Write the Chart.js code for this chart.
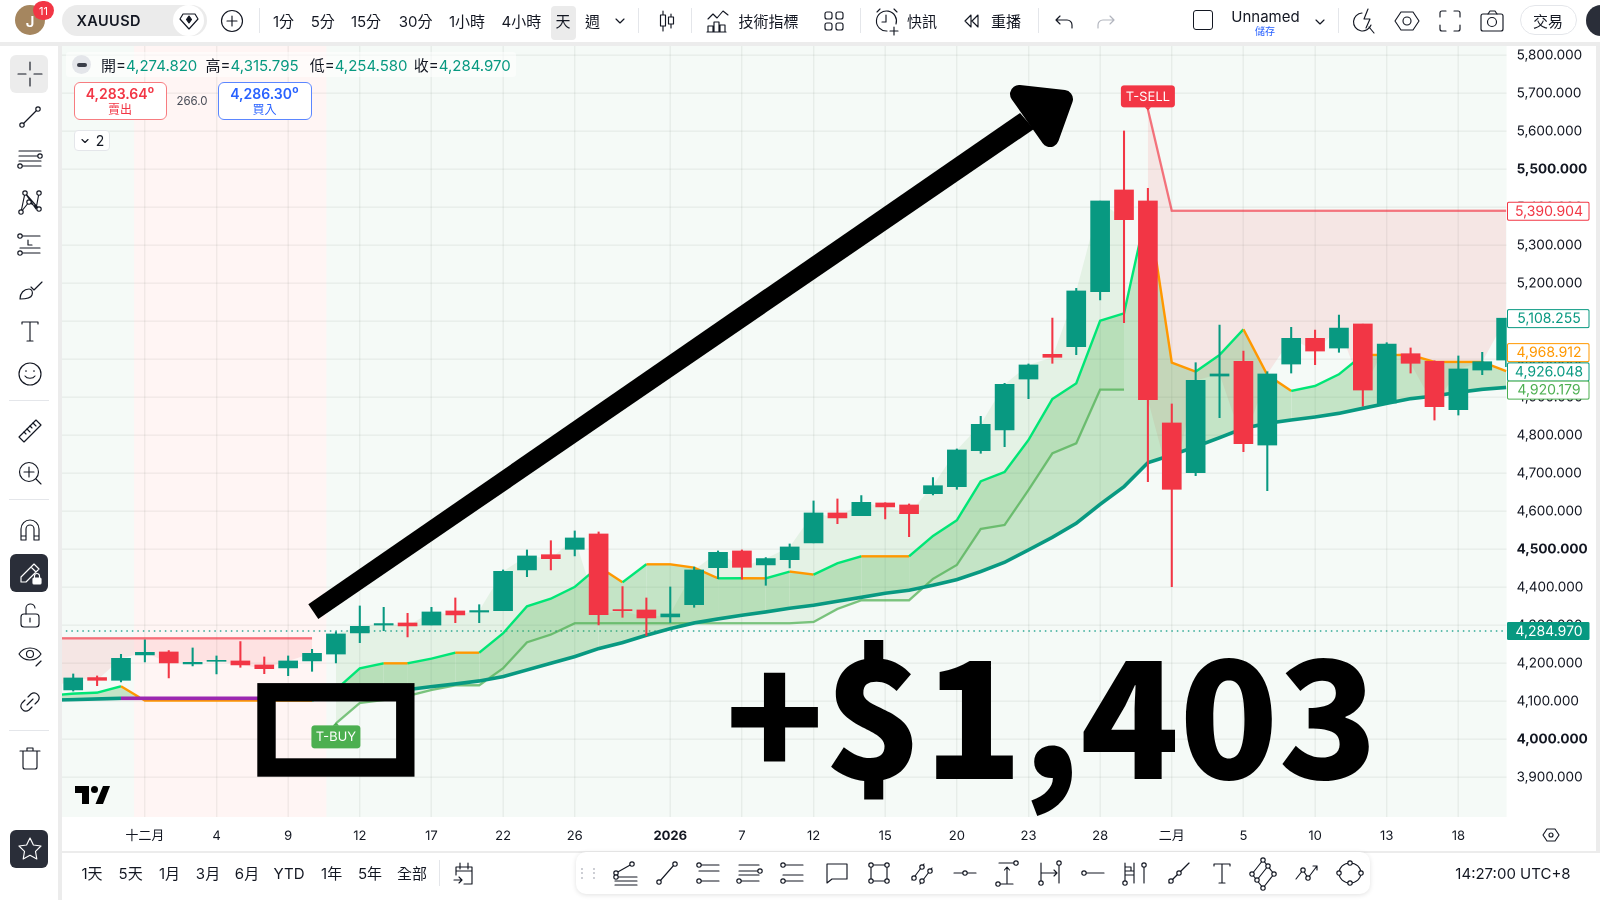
<!DOCTYPE html>
<html><head><meta charset="utf-8">
<script src="https://cdn.jsdelivr.net/npm/chart.js@4/dist/chart.umd.js"></script>
<style>
html,body{margin:0;padding:0;background:#fff;width:1600px;height:900px;overflow:hidden;font-family:Inter,"Noto Sans CJK TC",sans-serif;color:#131722}
.p{position:absolute}
#c{position:absolute;left:0;top:0;z-index:1}
#ui{position:absolute;left:0;top:0;width:1600px;height:900px;z-index:2;pointer-events:none}
.t{position:absolute;transform:translate(-50%,-50%);white-space:nowrap;line-height:1}
.l{position:absolute;transform:translateY(-50%);white-space:nowrap;line-height:1}
svg.i{position:absolute;fill:none;stroke:#131722;stroke-width:1.15;stroke-linecap:round;stroke-linejoin:round;overflow:visible}
svg.i circle{fill:#fff}
#big{position:absolute;left:725px;top:603px;font:900 163px/1.3 "Noto Sans CJK TC","Noto Sans",sans-serif;color:#000;white-space:nowrap;z-index:4}
#ann{position:absolute;left:0;top:0;z-index:3}
</style></head><body>
<div class="p" style="left:0;top:42px;width:1600px;height:4px;background:#ececec"></div>
<div class="p" style="left:58px;top:42px;width:4px;height:858px;background:#ececec"></div>
<div class="p" style="left:1596px;top:42px;width:4px;height:809px;background:#ececec"></div>
<div class="p" style="left:62px;top:851px;width:1538px;height:2px;background:#ececec"></div>
<canvas id="c" width="1600" height="900"></canvas>
<div id="ui"></div>
<svg id="ann" width="1600" height="900">
  <rect x="266.5" y="692.3" width="138.8" height="75.2" fill="none" stroke="#000" stroke-width="18.4"/>
  <polygon points="308.3,604.3 318.3,619 1034,129 1020,113" fill="#000"/>
  <polygon points="1019,94 1064,99 1050,138" fill="#000" stroke="#000" stroke-width="18" stroke-linejoin="round"/>
</svg>
<div id="big">+$1,403</div>
<script>
// ---------- chart data (index -1 is the off-screen bar that feeds the left edge) ----------
const opens  = [4118,4129.8,4162.3,4155.3,4221.9,4229.8,4198.2,4205.3,4206.1,4195.6,4187.7,4206.1,4224.5,4279.8,4300.8,4306.1,4300.8,4337.7,4335,4338.6,4445.6,4485.9,4500,4540.4,4341.3,4340.4,4322,4354.4,4451.8,4495.6,4458.8,4472.8,4516.7,4595.6,4588.6,4621.9,4616.7,4646.5,4664.9,4759.6,4814,4948.1,5013,5033.4,5178,5445.6,5416.6,4832.4,4701.7,4956,4994.6,4774.5,4987.6,5055.1,5029.7,5092.9,4884.1,5014.8,4994.6,4867.5,4971.8,4998.1];
const highs  = [4135,4172,4166.7,4223.7,4261.4,4233.3,4240.3,4219.3,4257,4216.7,4219.3,4236.8,4282.4,4350.8,4347.3,4331.5,4347.3,4371.9,4354.3,4445.6,4498.2,4522.7,4548.3,4545.6,4401.8,4372,4400.9,4453.5,4495.6,4498.3,4478.1,4514,4627.2,4632.4,4641.2,4623,4619.3,4688.6,4764,4850,4936.8,4987.6,5108.6,5186.9,5416.6,5600.8,5450,4882.4,4991.1,5090.2,5021.8,4967.4,5084.1,5077,5116.5,5092.9,5043.7,5029.7,4996.4,5008.7,5018.3,5108.3];
const lows   = [4110,4127,4141.2,4150.9,4203.5,4161.4,4193,4172,4189.5,4172.8,4167.5,4179,4200.9,4254.4,4285.9,4269.3,4300.8,4307,4307,4338.6,4428,4445.6,4482.5,4301,4321.1,4272.9,4307.1,4347.4,4422.8,4421.1,4405.3,4450.9,4516.7,4567.6,4588.6,4579.8,4533.3,4643,4657.9,4752.6,4770,4896.4,4989.4,5012.3,5156.2,5096.5,4678,4401.8,4693.8,4846.4,4757,4654.4,4963.9,4985.9,5018.3,4877,4882.4,4963.9,4840.3,4853.4,4959.6,4980.6];
const closes = [4128,4161.4,4155.3,4213.1,4228.9,4200.9,4202.6,4207.9,4195.6,4186,4206.1,4226.3,4277.2,4297.3,4304.4,4298.2,4335,4327.2,4338.6,4442,4482.4,4475.4,4529.8,4328.1,4338.6,4319.4,4329.9,4445.6,4492.1,4452.7,4475.5,4506.2,4595.6,4582.5,4623.7,4611.4,4593.9,4667.5,4761.4,4828.9,4934.1,4985,5005.2,5179.9,5416.6,5367.5,4893.8,4657.9,4944.6,4961.3,4778,4961.3,5055.1,5021.8,5082.3,4919.2,5040.2,4989.4,4875.4,4974.5,4993.8,5108.255];
const fastLine = [4115,4120.2,4122.8,4139.5,4101.8,4101.8,4101.8,4101.8,4101.8,4101.8,4101.8,4101.8,4130.7,4186.8,4200,4200,4212.3,4228,4228,4278.9,4350,4370,4401,4454.4,4413.2,4460.6,4460.6,4451.8,4423.7,4423.8,4423.7,4441.3,4433.4,4463.2,4481.6,4481.6,4481.6,4535.1,4576.3,4678.9,4703.5,4787.7,4895.5,4936.8,5101.6,5120.9,5406,4991.3,4967.6,5011.5,5079,4958.9,4916.8,4929.9,4960.6,5011.5,5011.5,5011.5,4993,4993,4993,4968.912];
const slowLine = [4103,4104.4,4106.1,4107.9,4107.9,4107.9,4107.9,4107.9,4107.9,4107.9,4107.9,4107.9,4113.2,4118.4,4124.6,4130.7,4138.6,4145.6,4153.5,4164.9,4182.5,4200,4217.6,4238.7,4254.5,4273.8,4291.3,4306.2,4316.7,4326.4,4335.1,4344.8,4352.7,4363.2,4373.7,4384.3,4392.2,4405.3,4420.2,4441.3,4465.8,4498.3,4531.6,4568.4,4618.4,4664.9,4728,4748.2,4770.1,4793.8,4818.4,4831.5,4840.3,4848.2,4857.8,4871,4884.1,4896.4,4903.4,4913.1,4921,4926.048];
const stopLine = [null,null,null,null,null,null,null,null,null,null,null,null,4042,4095.6,4103.5,4114,4129.8,4142,4142,4186.8,4255.2,4275.5,4305.3,4305.3,4305.3,4305.3,4305.3,4305.3,4305.3,4305.3,4305.3,4305.3,4308.8,4343,4365.8,4365.8,4365.8,4422,4458.8,4553.5,4564,4656,4752.6,4778.9,4920.179,4920.179,null,null,null,null,null,null,null,null,null,null,null,null,null,null,null,null];
const sellLine = [4265.8,4265.8,4265.8,4265.8,4265.8,4265.8,4265.8,4265.8,4265.8,4265.8,4265.8,4265.8,null,null,null,null,null,null,null,null,null,null,null,null,null,null,null,null,null,null,null,null,null,null,null,null,null,null,null,null,null,null,null,null,null,null,5657.8,5390.904,5390.904,5390.904,5390.904,5390.904,5390.904,5390.904,5390.904,5390.904,5390.904,5390.904,5390.904,5390.904,5390.904,5390.904];
const lastPrice = 4284.970;
const xTickIndexes = [3,6,9,12,15,18,21,25,28,31,34,37,40,43,46,49,52,55,58];
const xTickLabels  = ['十二月','4','9','12','17','22','26','2026','7','12','15','20','23','28','二月','5','10','13','18'];
const yTickValues  = [3900,4000,4100,4200,4300,4400,4500,4600,4700,4800,4900,5000,5100,5200,5300,5400,5500,5600,5700,5800];
const yBoldTicks   = [4000,4500,5500];
const bearRegion   = [2.55,10.6];
const rightTags = [[5390.904,'#F23645',0],[5108.255,'#089981',0],[4968.912,'#FF9800',-19],[4926.048,'#089981',-16],[4920.179,'#4CAF50',0]];

// ---------- chart ----------
const UP='#089981',DOWN='#F23645',ORANGE='#FF9800',FAST='#00E676',PURPLE='#9C27B0';
const idx=i=>i-1;
const pts=a=>a.map((v,i)=>({x:idx(i),y:v}));
const FONT='Inter,"Noto Sans CJK TC",sans-serif';
const closeBull=closes.map((v,i)=>stopLine[i]===null?null:v);
const closeBear=closes.map((v,i)=>sellLine[i]===null?null:v);
const isUp=c=>closes[c.dataIndex]>=opens[c.dataIndex];
const hidden={borderWidth:0,pointRadius:0,tension:0};

const regionPlugin={id:'regions',beforeDraw(ch){
  const {ctx,chartArea:a,scales:{x}}=ch;
  ctx.save();ctx.fillStyle='#f5faf7';ctx.fillRect(a.left,a.top,a.right-a.left,a.bottom-a.top);
  ctx.fillStyle='#fff5f4';
  const x0=x.getPixelForValue(bearRegion[0]),x1=x.getPixelForValue(bearRegion[1]);
  ctx.fillRect(x0,a.top,x1-x0,a.bottom-a.top);ctx.restore();
}};
function flag(ctx,cx,top,w,h,up,color,text){
  ctx.fillStyle=color;ctx.beginPath();ctx.roundRect(cx-w/2,top,w,h,3);ctx.fill();
  ctx.beginPath();
  if(up){ctx.moveTo(cx-3,top);ctx.lineTo(cx,top-3);ctx.lineTo(cx+3,top);}
  else{ctx.moveTo(cx-3,top+h);ctx.lineTo(cx,top+h+3);ctx.lineTo(cx+3,top+h);}
  ctx.fill();
  ctx.fillStyle='#fff';ctx.font='13px '+FONT;ctx.textAlign='center';ctx.textBaseline='middle';
  ctx.fillText(text,cx,top+h/2+.5);
}
const tagPlugin={id:'tags',afterDraw(ch){
  const {ctx,scales:{x,y}}=ch;ctx.save();
  flag(ctx,x.getPixelForValue(11),y.getPixelForValue(stopLine[12])+2,49,23,true,'#4CAF50','T-BUY');
  flag(ctx,x.getPixelForValue(45),y.getPixelForValue(sellLine[46])-24,54,22,false,DOWN,'T-SELL');
  const fmt=v=>v.toLocaleString('en-US',{minimumFractionDigits:3,maximumFractionDigits:3});
  ctx.font='14px '+FONT;ctx.textAlign='center';ctx.textBaseline='middle';
  for(const [v,c,n] of rightTags){
    const py=y.getPixelForValue(v)+n;
    ctx.fillStyle='#fff';ctx.strokeStyle=c;ctx.lineWidth=1;
    ctx.beginPath();ctx.roundRect(1507.5,py-8.5,81.5,18,1.5);ctx.fill();ctx.stroke();
    ctx.fillStyle=c;ctx.fillText(fmt(v),1549,py+.8);
  }
  const py=y.getPixelForValue(lastPrice);
  ctx.fillStyle=UP;ctx.beginPath();ctx.roundRect(1507,py-9,82.5,18,1.5);ctx.fill();
  ctx.fillStyle='#fff';ctx.fillText(fmt(lastPrice),1549,py+.8);
  ctx.restore();
}};

new Chart(document.getElementById('c'),{
  type:'bar',
  data:{datasets:[
    {type:'line',data:pts(closeBull),...hidden,fill:{target:2,above:'rgba(76,175,80,0.10)',below:'rgba(76,175,80,0.10)'},order:20},
    {type:'line',data:pts(closeBear),...hidden,fill:{target:3,above:'rgba(242,54,69,0.10)',below:'rgba(242,54,69,0.10)'},order:19},
    {type:'line',data:pts(stopLine),borderColor:'rgba(76,175,80,0.72)',borderWidth:2.3,pointRadius:0,tension:0,fill:false,order:12},
    {type:'line',data:pts(sellLine),borderColor:'rgba(242,54,69,0.68)',borderWidth:2.3,pointRadius:0,tension:0,fill:false,order:12},
    {type:'line',data:pts(fastLine),borderColor:FAST,borderWidth:2.4,pointRadius:0,tension:0,order:10,
      fill:{target:5,above:'rgba(76,175,80,0.29)',below:'rgba(242,54,69,0.22)'},
      segment:{borderColor:c=>c.p1.parsed.y>c.p0.parsed.y?FAST:ORANGE}},
    {type:'line',data:pts(slowLine),borderColor:UP,borderWidth:3.6,pointRadius:0,tension:0,fill:false,order:9,
      segment:{borderColor:c=>c.p1.parsed.y===c.p0.parsed.y?PURPLE:UP}},
    {type:'line',data:[{x:-1,y:lastPrice},{x:61,y:lastPrice}],borderColor:UP,borderWidth:1.2,borderDash:[1.5,4],pointRadius:0,fill:false,order:11},
    {type:'bar',data:lows.map((v,i)=>({x:idx(i),y:[v,highs[i]]})),barThickness:1.4,grouped:false,borderWidth:0,
      backgroundColor:c=>isUp(c)?UP:DOWN,order:2},
    {type:'bar',data:opens.map((v,i)=>({x:idx(i),y:[v,closes[i]]})),barThickness:19,grouped:false,borderWidth:0,
      backgroundColor:c=>isUp(c)?UP:DOWN,order:1}
  ]},
  options:{
    responsive:false,animation:false,devicePixelRatio:2,
    layout:{padding:{left:62,top:46,right:0,bottom:0}},
    plugins:{legend:{display:false},tooltip:{enabled:false}},
    scales:{
      x:{type:'linear',min:-0.47,max:60.02,offset:false,position:'bottom',
        grid:{color:'rgba(40,60,50,0.065)',lineWidth:1.4,drawTicks:false,offset:false},border:{display:false},
        afterBuildTicks:s=>{s.ticks=xTickIndexes.map(v=>({value:v}));},
        afterFit:s=>{s.height=83;},
        ticks:{autoSkip:false,maxRotation:0,padding:11.5,color:'#131722',
          font:c=>({family:FONT,size:13,weight:c.tick&&c.tick.value===25?'700':'400'}),
          callback:v=>xTickLabels[xTickIndexes.indexOf(v)]}},
      y:{type:'linear',position:'right',min:3795.5,max:5824.5,
        grid:{color:'rgba(40,60,50,0.065)',lineWidth:1.4,drawTicks:false},border:{display:false},
        afterBuildTicks:s=>{s.ticks=yTickValues.map(v=>({value:v}));},
        afterFit:s=>{s.width=93.4;},
        ticks:{padding:10,color:'#131722',autoSkip:false,
          font:c=>({family:FONT,size:13.5,weight:c.tick&&yBoldTicks.includes(c.tick.value)?'700':'400'}),
          callback:v=>v.toLocaleString('en-US',{minimumFractionDigits:3,maximumFractionDigits:3})}}
    }
  },
  plugins:[regionPlugin,tagPlugin]
});

// ---------- surrounding interface ----------
const ui=document.getElementById('ui');
function box(x,y,w,h,css){const d=document.createElement('div');d.style.cssText=`position:absolute;left:${x}px;top:${y}px;width:${w}px;height:${h}px;${css||''}`;ui.appendChild(d);return d;}
function T(x,y,s,size,css){const d=document.createElement('div');d.className='t';d.textContent=s;d.style.cssText=`left:${x}px;top:${y}px;font-size:${size||15}px;${css||''}`;ui.appendChild(d);return d;}
function L(x,y,s,size,css){const d=document.createElement('div');d.className='l';d.textContent=s;d.style.cssText=`left:${x}px;top:${y}px;font-size:${size||15}px;${css||''}`;ui.appendChild(d);return d;}
function I(x,y,inner,extra){const s=document.createElementNS('http://www.w3.org/2000/svg','svg');s.setAttribute('class','i');s.setAttribute('width',28);s.setAttribute('height',28);s.setAttribute('viewBox','0 0 28 28');s.style.left=(x-14)+'px';s.style.top=(y-14)+'px';if(extra)s.style.cssText+=extra;s.innerHTML=inner;ui.appendChild(s);}
const h=(x,y)=>`<circle cx="${x}" cy="${y}" r="2.2"/>`;
const sep=(x,y0,y1)=>box(x,y0,1,y1-y0,'background:#e4e6ea');

// top bar
box(15,5,30,30,'border-radius:50%;background:#a5865f');
T(30,21,'J',15,'color:#fff;font-weight:600');
box(33,1,21,19,'border-radius:10px;background:#f23645');
T(43.5,10.5,'11',11,'color:#fff');
box(62,5,145,31,'border-radius:16px;background:#ebebeb');
box(173,5,31,31,'border-radius:50%;background:#fff');
L(76.5,20.5,'XAUUSD',14.5,'font-weight:600;letter-spacing:.4px');
I(188.5,20.5,'<path d="M8 7h12l3 5-9 10-9-10z"/><path d="M14 9l2.5 3.5L14 16l-2.5-3.5z" fill="#131722"/>');
I(232,21,'<circle cx="14" cy="14" r="10.5" style="fill:none"/><path d="M14 9v10M9 14h10"/>');
sep(258.5,8,33);
[[283.5,'1分'],[322.7,'5分'],[366,'15分'],[415.7,'30分'],[467,'1小時'],[521.4,'4小時'],[592.5,'週']].forEach(a=>T(a[0],21,a[1],15));
box(551,6,24.5,33.5,'background:#ebebeb;border-radius:4px');
T(563,21,'天',15);
I(620,20,'<path d="M10 13l4 4 4-4"/>');
sep(638,8,33);
I(667,21,'<path d="M10 4v20M18 7v14"/><rect x="7.5" y="8" width="5" height="11" style="fill:#fff"/><rect x="15.5" y="10" width="5" height="7" style="fill:#fff"/>');
sep(691,8,33);
I(718,21,'<path d="M4 12l5-5 4 4 6-7 5 4"/><path d="M4 25v-6h5v6M10 25V15h5v10M16 25v-7h5v7M3 25h19"/>');
L(738.5,21,'技術指標',15);
I(834,21,'<rect x="5" y="5" width="7" height="7" rx="2"/><rect x="16" y="5" width="7" height="7" rx="2"/><rect x="5" y="16" width="7" height="7" rx="2"/><rect x="16" y="16" width="7" height="7" rx="2"/>');
sep(860,8,33);
I(887,21,'<path d="M23 17a10 10 0 1 0-9 7"/><path d="M13 8v7H9M21 20v8M17 24h8M4 5l3-3M21 2l3 3"/>');
L(907,21,'快訊',15);
I(971,21,'<path d="M14 8l-6 6 6 6zM21 8l-6 6 6 6z"/>');
L(991,21,'重播',15);
sep(1038,8,33);
I(1064,21,'<path d="M10 9l-4 4 4 4M6 13h11a5 5 0 0 1 5 5v3"/>');
I(1106,21,'<path d="M18 9l4 4-4 4M22 13H11a5 5 0 0 0-5 5v3" style="stroke:#b2b5be"/>');
box(1193,10,20,20,'border:1.5px solid #131722;border-radius:3px;box-sizing:border-box');
T(1265.5,16,'Unnamed',15);
T(1265,30.5,'儲存',10,'color:#2962ff');
I(1320,21,'<path d="M10 13l4 4 4-4"/>');
sep(1338,8,33);
I(1365,21,'<path d="M11 6a9 9 0 1 0 9 12M23 26l-5-6M17 2l-4 10h6l-4 9"/>');
I(1407,21,'<path d="M8 5h12l6 9-6 9H8L2 14z"/><circle cx="14" cy="14" r="4"/>');
I(1450,21,'<path d="M4 10V6a2 2 0 0 1 2-2h4M18 4h4a2 2 0 0 1 2 2v4M24 18v4a2 2 0 0 1-2 2h-4M10 24H6a2 2 0 0 1-2-2v-4"/>');
I(1492,21,'<rect x="3" y="7" width="22" height="17" rx="2"/><path d="M10 7l2-3h5l2 3"/><circle cx="14" cy="15" r="4.5"/>');
box(1520,5,56.5,30,'border-radius:15px;border:1px solid #e4e6ea;box-sizing:border-box');
T(1548,21,'交易',15);
box(1586,5,30,31,'border-radius:50% 0 0 50%;background:#2a2e39');

// left toolbar
box(10,55,38,38,'background:#ececec;border-radius:6px');
I(29.5,74,'<path d="M14 2v8M14 18v8M2 14h8M18 14h8"/>');
I(29.5,117,'<path d="M7 21L21 7"/>'+h(6,22)+h(22,6));
I(29.5,159,'<path d="M3 6h22M3 11h19M3 16h22M6 21h19"/>'+h(24,11)+h(4,21));
I(29.5,202,'<path d="M5 24L9 5l11 16 3-16M5 24l8-10 10 7M9 5l14 16"/>'+h(5,24)+h(9,5)+h(13,14)+h(23,5)+h(23,21));
I(29.5,245,'<path d="M6 5h18M4 17h20M6 22h18"/>'+h(4,5)+h(4,22)+'<path d="M12 9v5h4"/>');
I(29.5,289,'<path d="M4 24c0-6 4-10 9-10 3 0 4 3 3 6-1 3-6 4-12 4z"/><path d="M15 12l3 3 8-8"/>');
I(29.5,331,'<path d="M6 7V5h16v2M14 5v19M11 24h6"/>');
I(29.5,373.5,'<circle cx="14" cy="14" r="11" style="fill:none"/><path d="M9 16c2 3 8 3 10 0"/><path d="M10 10.5v1M18 10.5v1"/>');
box(9,400,40,1,'background:#e4e6ea');
I(29.5,431,'<path d="M3 20L20 3l5 5L8 25z"/><path d="M8 15l2 2M11 12l3 3M14 9l2 2M17 6l3 3"/>');
I(29.5,472.5,'<circle cx="13" cy="13" r="9.5" style="fill:none"/><path d="M13 8v10M8 13h10M20 20l5 5"/>');
box(9,499,40,1,'background:#e4e6ea');
I(29.5,530,'<path d="M5 24V13a9 9 0 0 1 18 0v11h-5V13a4 4 0 0 0-8 0v11zM5 20h5M18 20h5"/>');
box(10,554,38,38,'background:#2a2e39;border-radius:6px');
I(29.5,573,'<path d="M5 23v-5L18 5l5 5L10 23zM15 8l5 5" style="stroke:#fff"/><rect x="17" y="19" width="8" height="6" rx="1" style="fill:#fff;stroke:#fff"/><path d="M18.5 19v-2a2.5 2.5 0 0 1 5 0v2" style="stroke:#fff"/>');
I(29.5,616,'<rect x="5" y="12" width="18" height="13" rx="3"/><path d="M10 12V7a4.5 4.5 0 0 1 9-1M14 16v4"/>');
I(29.5,655,'<path d="M3 13c5-8 17-8 22 0-5 8-17 8-22 0z"/><circle cx="14" cy="13" r="3.5"/><path d="M20 25l5-5"/>');
I(29.5,702,'<path d="M12 9l3-3a5 5 0 0 1 7 7l-3 3M16 19l-3 3a5 5 0 0 1-7-7l3-3M11 17l6-6"/>');
box(9,730,40,1,'background:#e4e6ea');
I(29.5,758,'<path d="M4 7h20M11 7V4h6v3M7 7v16a2 2 0 0 0 2 2h10a2 2 0 0 0 2-2V7"/>');
box(10,830,38,38,'background:#2a2e39;border-radius:6px');
I(29.5,849,'<path d="M14 3l3.4 7 7.6 1-5.5 5.3L20.800 24 14 20.3 7.2 24l1.3-7.7L3 11l7.6-1z" style="stroke:#fff"/>');

// legend
box(66,52,450,25,'background:rgba(255,255,255,.55);border-radius:3px');
box(72,55,19,19,'background:#e4e6ea;border-radius:50%');
box(77,63,10,4,'background:#3a3e49;border-radius:2px');
[[101,'開',4274.82],[205.6,'高',4315.795],[309.7,'低',4254.58],[413.8,'收',4284.97]].forEach(a=>{
  const d=L(a[0],64.5,a[1]+'=',15);
  const v=document.createElement('span');v.textContent=a[2].toLocaleString('en-US',{minimumFractionDigits:3});v.style.color='#089981';d.appendChild(v);
});
box(73.5,82,93,38,'background:#fff;border:1.5px solid #f77c80;border-radius:6px;box-sizing:border-box');
T(120,94,'4,283.64⁰',14,'color:#F23645;font-weight:600');
T(120,110,'賣出',12,'color:#F23645');
T(192,102,'266.0',11.5,'color:#4a4e59');
box(217.5,82,94,38,'background:#fff;border:1.5px solid #5b86ff;border-radius:6px;box-sizing:border-box');
T(264.5,94,'4,286.30⁰',14,'color:#2962ff;font-weight:600');
T(264.5,110,'買入',12,'color:#2962ff');
box(73.5,130,36,21,'background:#fff;border:1px solid #e4e6ea;border-radius:4px;box-sizing:border-box');
I(85,141,'<path d="M11 12.5l3 3 3-3"/>');
T(100,141,'2',14);

// TradingView mark
const tv=document.createElementNS('http://www.w3.org/2000/svg','svg');
tv.setAttribute('width',36);tv.setAttribute('height',20);tv.style.cssText='position:absolute;left:75px;top:786px';
tv.innerHTML='<path d="M14 0H0v7h7v11h7z"/><circle cx="19.5" cy="3.5" r="3.5"/><path d="M28 0h7l-7 18h-7.5z"/>';ui.appendChild(tv);
I(1551,835,'<path d="M10 8h8l4 6-4 6h-8l-4-6z"/><circle cx="14" cy="14" r="2"/>');

// bottom bar
[[92,'1天'],[130.6,'5天'],[169.5,'1月'],[208,'3月'],[247,'6月'],[289,'YTD'],[331.6,'1年'],[370,'5年'],[412,'全部']].forEach(a=>T(a[0],873,a[1],15));
sep(439,860,886);
I(464,873,'<path d="M6 8h16v17H14M6 8v8M6 12h16M10 4v6M18 4v6M4 21h8M9 18l3 3-3 3"/>');
box(575.5,852,794.5,42,'background:#fff;border-radius:10px;box-shadow:0 1px 5px rgba(0,0,0,.12)');
T(588,873,'⋮⋮',12,'color:#b2b5be');
const tools=[
 [625,'<path d="M4 18h22M4 22h22M4 26h22M5 14L21 5"/>'+h(5,14)+h(21,5)+h(5,18)],
 [667,'<path d="M7 22L21 6"/>'+h(6,23)+h(22,5)],
 [709,'<path d="M4 6h20M4 12h20M4 22h20"/>'+h(4,6)+h(4,22)],
 [750,'<path d="M3 6h20M3 12h20M3 16h20M3 22h20"/>'+h(24,12)+h(3,22)],
 [793,'<path d="M6 6h18M4 16h20M6 22h18"/>'+h(4,6)+h(4,22)],
 [837,'<path d="M4 5h20v15H9l-5 4z"/>'],
 [879,'<path d="M6 6h16v16H6z"/>'+h(6,6)+h(22,6)+h(6,22)+h(22,22)],
 [922.4,'<path d="M4 21L16 5M12 25L24 9"/>'+h(6,19)+h(14,8)+h(14,22)+h(22,12)],
 [965,'<path d="M3 14h22"/>'+h(14,14)],
 [1008,'<path d="M5 4h16M5 25h14M13 24V8M10.5 11L13 8l2.5 3"/>'+h(22,4)+h(4,25)],
 [1050,'<path d="M5 4v20M23 4v20M5 14h16M18 11l3 3-3 3"/>'+h(5,24)+h(23,4)],
 [1093,'<path d="M5 14h20"/>'+h(5,14)],
 [1134,'<path d="M5 4v20M14 4v20M5 8h6v4H5M5 12h9v4H5"/>'+h(5,24)+h(24,6)+'<path d="M24 8v16"/>'],
 [1177.5,'<path d="M5 24L25 4"/>'+h(7,22)+h(15,14)],
 [1222,'<path d="M6 7V5h16v2M14 5v19M11 24h6"/>'],
 [1263,'<path d="M3 15L14 1l11 14-11 14zM8 21L19 7"/>'+h(3,15)+h(14,1)+h(25,15)+h(14,29)+h(8,21)+h(19,7)],
 [1306.6,'<path d="M3 20l7-9 5 8 9-12M20 7h4v4"/>'+h(10,11)+h(15,19)],
 [1349.5,'<path d="M3 14a11 10 0 0 1 22 0a11 10 0 0 1-22 0z"/>'+h(3,14)+h(14,4)+h(25,14)+h(14,24)]
];
tools.forEach(a=>I(a[0],873,a[1]));
T(1513,873,'14:27:00 UTC+8',15);
</script>
</body></html>
